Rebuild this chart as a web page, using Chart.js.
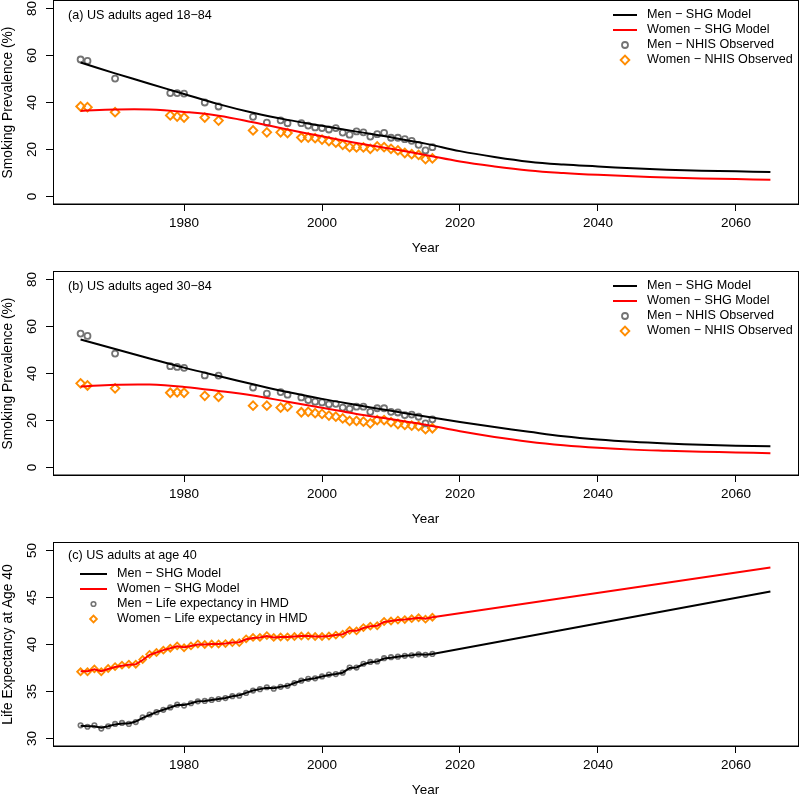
<!DOCTYPE html>
<html>
<head>
<meta charset="utf-8">
<script src="https://cdn.jsdelivr.net/npm/chart.js@4.4.0/dist/chart.umd.min.js"></script>
<style>
  body { margin: 0; background: #fff; }
  #wrap { position: relative; width: 800px; height: 798px; }
  canvas { position: absolute; left: 0; }
</style>
</head>
<body>
<div id="wrap">
  <canvas id="chartA" width="800" height="256" style="top:0px"></canvas>
  <canvas id="chartB" width="800" height="256" style="top:271px"></canvas>
  <canvas id="chartC" width="800" height="256" style="top:542px"></canvas>
</div>
<script>
// tick labels
const xTicks = [1980, 2000, 2020, 2040, 2060];
const prevTicks = [0, 20, 40, 60, 80];
const lifeTicks = [30, 35, 40, 45, 50];

// NHIS survey years and model years
const nhisYears = [1965, 1966, 1970, 1978, 1979, 1980, 1983, 1985, 1990, 1992, 1994, 1995,
  1997, 1998, 1999, 2000, 2001, 2002, 2003, 2004, 2005, 2006, 2007, 2008, 2009, 2010,
  2011, 2012, 2013, 2014, 2015, 2016];
const modelYears = [1965, 1970, 1975, 1980, 1985, 1990, 1995, 2000, 2005, 2010, 2015,
  2020, 2025, 2030, 2035, 2040, 2045, 2050, 2055, 2060, 2065];

// (a) aged 18-84
const menObsA = [58.3, 57.7, 50.2, 44.0, 44.0, 43.8, 40.0, 38.3, 33.9, 31.4, 32.4, 31.2,
  31.2, 30.2, 29.4, 29.1, 28.5, 29.1, 27.2, 26.3, 27.7, 27.3, 25.5, 26.5, 27.1, 25.0,
  25.0, 24.4, 23.7, 22.0, 19.6, 21.0];
const womenObsA = [38.3, 38.0, 35.9, 34.5, 34.0, 33.6, 33.6, 32.3, 28.1, 27.3, 27.3, 27.0,
  25.1, 25.1, 24.8, 24.2, 23.6, 22.9, 22.0, 21.0, 20.9, 20.9, 20.3, 21.3, 21.0, 20.3,
  19.6, 18.5, 18.0, 17.7, 15.9, 16.2];
const menModelA = [57.0, 52.4, 48.0, 43.6, 39.3, 35.6, 32.6, 30.1, 27.6, 25.2, 22.5,
  19.3, 16.8, 14.8, 13.6, 12.8, 12.0, 11.4, 11.0, 10.7, 10.4];
const womenModelA = [36.4, 37.0, 37.0, 36.0, 34.4, 31.6, 28.5, 25.6, 22.8, 20.3, 17.7,
  14.9, 12.8, 11.1, 10.0, 9.2, 8.6, 8.1, 7.7, 7.4, 7.1];

// (b) aged 30-84
const menObsB = [57.0, 56.0, 48.5, 43.1, 42.8, 42.4, 39.2, 39.1, 34.0, 31.4, 32.1, 31.0,
  29.8, 28.7, 28.0, 27.7, 26.9, 27.1, 25.5, 25.0, 25.9, 25.9, 23.7, 25.2, 25.2, 23.7,
  23.4, 22.3, 22.5, 21.6, 18.8, 20.5];
const womenObsB = [35.8, 34.9, 33.7, 31.8, 32.0, 31.8, 30.5, 30.1, 26.3, 26.3, 25.5, 25.9,
  23.5, 23.7, 23.1, 22.8, 22.1, 21.6, 20.9, 19.8, 19.8, 19.5, 18.8, 20.2, 20.2, 19.3,
  18.5, 18.1, 17.8, 17.6, 16.3, 16.7];
const menModelB = [54.5, 50.4, 46.4, 42.5, 38.9, 35.4, 32.1, 29.2, 26.6, 24.1, 21.7,
  19.4, 17.2, 15.2, 13.3, 11.9, 10.9, 10.2, 9.7, 9.3, 9.0];
const womenModelB = [34.5, 35.2, 35.3, 34.3, 32.6, 30.6, 28.0, 25.4, 22.8, 20.5, 18.2,
  15.4, 13.0, 11.0, 9.5, 8.4, 7.6, 7.1, 6.7, 6.4, 6.1];

// (c) life expectancy at age 40
const hmdYears = [1965, 1966, 1967, 1968, 1969, 1970, 1971, 1972, 1973, 1974, 1975, 1976,
  1977, 1978, 1979, 1980, 1981, 1982, 1983, 1984, 1985, 1986, 1987, 1988, 1989, 1990,
  1991, 1992, 1993, 1994, 1995, 1996, 1997, 1998, 1999, 2000, 2001, 2002, 2003, 2004,
  2005, 2006, 2007, 2008, 2009, 2010, 2011, 2012, 2013, 2014, 2015, 2016];
const menHmd = [31.4, 31.25, 31.4, 31.05, 31.3, 31.55, 31.65, 31.55, 31.75, 32.25, 32.55, 32.8,
  33.05, 33.3, 33.6, 33.5, 33.75, 33.95, 34.0, 34.1, 34.2, 34.3, 34.5, 34.55, 34.85, 35.1,
  35.25, 35.45, 35.3, 35.5, 35.6, 35.9, 36.15, 36.35, 36.4, 36.6, 36.8, 36.85, 37.0, 37.55,
  37.55, 37.95, 38.15, 38.2, 38.55, 38.65, 38.7, 38.8, 38.85, 38.95, 38.9, 39.0];
const womenHmd = [37.1, 37.1, 37.4, 37.1, 37.45, 37.65, 37.8, 37.9, 37.9, 38.4, 38.95, 39.15,
  39.4, 39.6, 39.85, 39.65, 39.85, 40.05, 40.0, 40.05, 40.05, 40.1, 40.2, 40.2, 40.6, 40.75,
  40.75, 40.95, 40.75, 40.8, 40.8, 40.85, 40.9, 40.9, 40.85, 40.85, 40.9, 41.0, 41.1, 41.5,
  41.45, 41.8, 41.95, 42.0, 42.45, 42.5, 42.6, 42.65, 42.75, 42.85, 42.7, 42.9];
const lifeModelYears = [1965, 1966, 1967, 1968, 1969, 1970, 1971, 1972, 1973, 1974, 1975, 1976,
  1977, 1978, 1979, 1980, 1981, 1982, 1983, 1984, 1985, 1986, 1987, 1988, 1989, 1990,
  1991, 1992, 1993, 1994, 1995, 1996, 1997, 1998, 1999, 2000, 2001, 2002, 2003, 2004,
  2005, 2006, 2007, 2008, 2009, 2010, 2011, 2012, 2013, 2014, 2015, 2016, 2065];
const menLifeModel = [31.35, 31.3, 31.3, 31.15, 31.3, 31.5, 31.6, 31.6, 31.8, 32.2, 32.5, 32.8,
  33.05, 33.3, 33.55, 33.55, 33.75, 33.95, 34.0, 34.1, 34.2, 34.3, 34.5, 34.6, 34.85, 35.1,
  35.25, 35.4, 35.35, 35.5, 35.6, 35.9, 36.15, 36.3, 36.4, 36.6, 36.75, 36.85, 37.0, 37.5,
  37.55, 37.9, 38.1, 38.2, 38.5, 38.6, 38.7, 38.8, 38.85, 38.95, 38.9, 39.0, 45.65];
const womenLifeModel = [37.15, 37.15, 37.35, 37.15, 37.4, 37.6, 37.75, 37.85, 37.9, 38.35, 38.9, 39.15,
  39.4, 39.6, 39.8, 39.7, 39.85, 40.0, 40.0, 40.05, 40.05, 40.1, 40.2, 40.25, 40.55, 40.7,
  40.75, 40.9, 40.75, 40.8, 40.8, 40.85, 40.9, 40.9, 40.85, 40.85, 40.9, 41.0, 41.1, 41.45,
  41.45, 41.75, 41.95, 42.0, 42.4, 42.5, 42.6, 42.65, 42.75, 42.85, 42.75, 42.9, 48.2];

const FONT = '"Liberation Sans", Arial, Helvetica, sans-serif';
Chart.defaults.font.family = FONT;
Chart.defaults.color = '#000';

const pts = (xs, ys) => xs.map((x, i) => ({ x: x, y: ys[i] }));

// box, rotated y tick labels, panel title and legend
const panelDecor = {
  id: 'panelDecor',
  afterDraw(chart, args, opts) {
    const { ctx, chartArea: a } = chart;
    const y = chart.scales.y;
    ctx.save();
    ctx.strokeStyle = '#000';
    ctx.lineWidth = 1;
    ctx.strokeRect(Math.round(a.left) + 0.5, Math.round(a.top) - 0.5,
      Math.round(a.right - a.left), Math.round(a.bottom - a.top) + 0.5);

    ctx.fillStyle = '#000';
    ctx.font = '13.5px ' + FONT;
    ctx.textAlign = 'center';
    ctx.textBaseline = 'middle';
    y.ticks.forEach(t => {
      ctx.save();
      ctx.translate(32, y.getPixelForValue(t.value));
      ctx.rotate(-Math.PI / 2);
      ctx.fillText(String(t.value), 0, 0);
      ctx.restore();
    });

    ctx.font = '12.6px ' + FONT;
    ctx.textAlign = 'left';
    ctx.fillText(opts.title, 68, opts.titleY);

    const lg = opts.legend;
    chart.data.datasets.forEach((ds, i) => {
      const ly = lg.y0 + i * 15;
      if (ds.showLine) {
        ctx.strokeStyle = ds.borderColor;
        ctx.lineWidth = 2;
        ctx.beginPath();
        ctx.moveTo(lg.x0, ly);
        ctx.lineTo(lg.x1, ly);
        ctx.stroke();
      } else {
        ctx.strokeStyle = ds.pointBorderColor;
        ctx.fillStyle = 'rgba(0,0,0,0)';
        ctx.lineWidth = ds.pointBorderWidth;
        Chart.helpers.drawPoint(ctx, {
          pointStyle: ds.pointStyle, radius: ds.pointRadius,
          borderWidth: ds.pointBorderWidth, rotation: 0
        }, (lg.x0 + lg.x1) / 2, ly);
      }
      ctx.fillStyle = '#000';
      ctx.fillText(ds.label, lg.xt, ly);
    });
    ctx.restore();
  }
};

function modelSet(label, color, xs, ys, smooth) {
  return {
    label: label, data: pts(xs, ys), showLine: true, borderColor: color,
    borderWidth: 2, pointRadius: 0, tension: smooth ? 0.4 : 0, order: 0
  };
}
function obsSet(label, color, style, r, bw, xs, ys) {
  return {
    label: label, data: pts(xs, ys), showLine: false, pointStyle: style,
    pointRadius: r, pointBorderColor: color, pointBackgroundColor: 'rgba(0,0,0,0)',
    pointBorderWidth: bw, order: 1
  };
}

// no automatic label padding: the plot box is placed by hand
function noPad(s) {
  s.paddingTop = 0; s.paddingBottom = 0; s.paddingLeft = 0; s.paddingRight = 0;
}

function makePanel(id, datasets, yMin, yMax, yTickVals, yTitle, decor) {
  return new Chart(document.getElementById(id), {
    type: 'scatter',
    data: { datasets: datasets },
    options: {
      responsive: false,
      animation: false,
      events: [],
      layout: { autoPadding: false, padding: { left: 0, right: 2, top: 1, bottom: 0 } },
      plugins: { legend: { display: false }, tooltip: { enabled: false }, panelDecor: decor },
      scales: {
        x: {
          type: 'linear', min: 1961, max: 2069,
          afterBuildTicks: s => { s.ticks = xTicks.map(v => ({ value: v })); },
          afterFit: s => { s.height = 52; noPad(s); },
          grid: { drawOnChartArea: false, drawTicks: true, tickLength: 7, color: '#000' },
          border: { color: '#000' },
          ticks: { font: { size: 13.5 }, color: '#000', padding: 4, maxRotation: 0, autoSkip: false,
            callback: v => String(v) },
          title: { display: true, text: 'Year', font: { size: 13.5, lineHeight: 1 }, padding: { top: 0, bottom: 1 } }
        },
        y: {
          type: 'linear', min: yMin, max: yMax,
          afterBuildTicks: s => { s.ticks = yTickVals.map(v => ({ value: v })); },
          afterFit: s => { s.width = 53; noPad(s); },
          grid: { drawOnChartArea: false, drawTicks: true, tickLength: 7, color: '#000' },
          border: { color: '#000' },
          ticks: { display: false, font: { size: 2 } },
          title: { display: true, text: yTitle, font: { size: 13.8, lineHeight: 1 }, padding: { top: 1, bottom: 0 } }
        }
      }
    },
    plugins: [panelDecor]
  });
}

const GRAY = '#737373';
const ORANGE = '#ff8c00';

makePanel('chartA', [
  modelSet('Men − SHG Model', '#000', modelYears, menModelA, true),
  modelSet('Women − SHG Model', '#ff0000', modelYears, womenModelA, true),
  obsSet('Men − NHIS Observed', GRAY, 'circle', 3.0, 1.8, nhisYears, menObsA),
  obsSet('Women − NHIS Observed', ORANGE, 'rectRot', 4.3, 1.9, nhisYears, womenObsA)
], -3.2, 83.2, prevTicks, 'Smoking Prevalence (%)',
  { title: '(a) US adults aged 18−84', titleY: 16, legend: { x0: 613, x1: 637, xt: 647, y0: 15 } });

makePanel('chartB', [
  modelSet('Men − SHG Model', '#000', modelYears, menModelB, true),
  modelSet('Women − SHG Model', '#ff0000', modelYears, womenModelB, true),
  obsSet('Men − NHIS Observed', GRAY, 'circle', 3.0, 1.8, nhisYears, menObsB),
  obsSet('Women − NHIS Observed', ORANGE, 'rectRot', 4.3, 1.9, nhisYears, womenObsB)
], -3.2, 83.2, prevTicks, 'Smoking Prevalence (%)',
  { title: '(b) US adults aged 30−84', titleY: 16, legend: { x0: 613, x1: 637, xt: 647, y0: 15 } });

makePanel('chartC', [
  modelSet('Men − SHG Model', '#000', lifeModelYears, menLifeModel, false),
  modelSet('Women − SHG Model', '#ff0000', lifeModelYears, womenLifeModel, false),
  obsSet('Men − Life expectancy in HMD', GRAY, 'circle', 2.3, 1.6, hmdYears, menHmd),
  obsSet('Women − Life expectancy in HMD', ORANGE, 'rectRot', 3.4, 1.8, hmdYears, womenHmd)
], 29.2, 50.8, lifeTicks, 'Life Expectancy at Age 40',
  { title: '(c) US adults at age 40', titleY: 14, legend: { x0: 80, x1: 107, xt: 117, y0: 32 } });
</script>
</body>
</html>
